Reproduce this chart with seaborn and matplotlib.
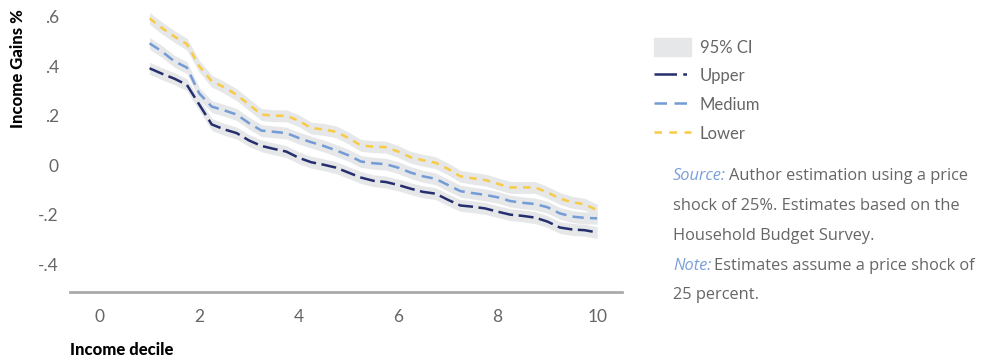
"""
Income gains by decile under a 25% price shock, three groups with 95% CI bands.
Writes: out.png
"""
import matplotlib.lines as mlines
import matplotlib.patches as mpatches
import matplotlib.pyplot as plt
import pandas as pd
import seaborn as sns

DECILE = [1.0, 1.25, 1.5, 1.75, 2.0, 2.25, 2.5, 2.75, 3.0, 3.25, 3.5, 3.75,
          4.0, 4.25, 4.5, 4.75, 5.0, 5.25, 5.5, 5.75, 6.0, 6.25, 6.5, 6.75,
          7.0, 7.25, 7.5, 7.75, 8.0, 8.25, 8.5, 8.75, 9.0, 9.25, 9.5, 9.75, 10.0]

UPPER = [0.392, 0.370, 0.350, 0.325, 0.245, 0.165, 0.145, 0.130, 0.100, 0.078,
         0.066, 0.055, 0.030, 0.012, 0.002, -0.010, -0.030, -0.050, -0.063,
         -0.068, -0.080, -0.095, -0.108, -0.115, -0.140, -0.163, -0.168, -0.175,
         -0.188, -0.200, -0.205, -0.212, -0.228, -0.252, -0.260, -0.263, -0.272]

MEDIUM = [0.493, 0.460, 0.420, 0.395, 0.290, 0.237, 0.222, 0.205, 0.170, 0.140,
          0.135, 0.130, 0.110, 0.093, 0.078, 0.060, 0.040, 0.015, 0.008, 0.004,
          -0.010, -0.030, -0.045, -0.055, -0.080, -0.105, -0.113, -0.120, -0.130,
          -0.145, -0.152, -0.157, -0.170, -0.195, -0.208, -0.213, -0.215]

LOWER = [0.594, 0.555, 0.520, 0.490, 0.400, 0.340, 0.315, 0.285, 0.245, 0.205,
         0.200, 0.200, 0.180, 0.150, 0.145, 0.135, 0.110, 0.080, 0.075, 0.073,
         0.055, 0.032, 0.020, 0.010, -0.015, -0.045, -0.053, -0.060, -0.075,
         -0.090, -0.090, -0.090, -0.110, -0.135, -0.150, -0.158, -0.182]

# half width of the 95% CI band, per group
CI_HALF = {"Upper": 0.024, "Medium": 0.024, "Lower": 0.024}

GROUPS = ["Upper", "Medium", "Lower"]
COLORS = {"Upper": "#252f6e", "Medium": "#739bd6", "Lower": "#f8cb46"}
DASHES = {"Upper": (6, 2.2), "Medium": (4.5, 2.5), "Lower": (3, 2.5)}
LEGEND_DASHES = {"Upper": (9, 2.5, 1.5, 2.5), "Medium": (5, 3), "Lower": (3, 3)}
BAND = "#e6e7e8"
TXT = "#666666"

YTICKS = [0.6, 0.4, 0.2, 0.0, -0.2, -0.4]
YTICKLABELS = [".6", ".4", ".2", "0", "-.2", "-.4"]
XTICKS = [0, 2, 4, 6, 8, 10]


def main():
    sns.set_theme(style="white")
    plt.rcParams["font.family"] = ["Lato", "DejaVu Sans"]

    df = pd.concat([
        pd.DataFrame({"decile": DECILE, "gain": vals, "group": g})
        for g, vals in zip(GROUPS, [UPPER, MEDIUM, LOWER])
    ], ignore_index=True)

    fig = plt.figure(figsize=(9.87, 3.6), dpi=100)
    ax = fig.add_axes([70 / 987, 68 / 360, 552 / 987, 285 / 360])

    for g in GROUPS:
        sub = df[df["group"] == g]
        ax.fill_between(sub["decile"], sub["gain"] - CI_HALF[g],
                        sub["gain"] + CI_HALF[g], color=BAND, lw=0, zorder=1)

    sns.lineplot(data=df, x="decile", y="gain", hue="group", style="group",
                 palette=COLORS, dashes=DASHES, linewidth=1.8,
                 legend=False, ax=ax, zorder=3)

    ax.set_xlim(-0.6, 10.5)
    ax.set_ylim(-0.513, 0.64)
    ax.set_xticks(XTICKS)
    ax.set_yticks(YTICKS)
    ax.set_yticklabels(YTICKLABELS)
    ax.tick_params(axis="both", length=0, labelsize=12.5, colors=TXT)
    ax.tick_params(axis="x", pad=12)
    ax.tick_params(axis="y", pad=8)
    ax.set_xlabel("")
    ax.set_ylabel("")
    for side in ("top", "right", "left"):
        ax.spines[side].set_visible(False)
    ax.spines["bottom"].set_color("#aaaaaa")
    ax.spines["bottom"].set_linewidth(2)

    fig.text(70 / 987, 1 - 350 / 360, "Income decile", fontsize=12,
             fontweight="black", color="black", ha="left", va="center")
    fig.text(18 / 987, 1 - 9 / 360, "Income Gains %", fontsize=12,
             fontweight="black", color="black", rotation=90,
             ha="center", va="top")

    handles = [mpatches.FancyBboxPatch((0, 0), 1, 1, color=BAND, label="95% CI")]
    for g in GROUPS:
        handles.append(mlines.Line2D([], [], color=COLORS[g], lw=1.8,
                                     dashes=LEGEND_DASHES[g], label=g))
    leg = fig.legend(handles=handles, loc="upper left",
                     bbox_to_anchor=(639 / 987, 1 - 23 / 360), frameon=False,
                     fontsize=12, handlelength=2.2, handleheight=1.3,
                     labelspacing=0.64, handletextpad=0.55)
    for t in leg.get_texts():
        t.set_color(TXT)

    note_font = ["Open Sans", "DejaVu Sans"]
    blue = "#7a9fd8"
    x0 = 673 / 987
    fs = 11.8
    src = fig.text(x0, 1 - 176 / 360, "Source:", fontsize=fs, style="italic",
                   color=blue, family=note_font, va="center", ha="left")
    ax.annotate("Author estimation using a price", xy=(1, 0.5),
                xycoords=src, xytext=(2, 0), textcoords="offset points",
                va="center", ha="left", fontsize=fs,
                color=TXT, family=note_font)
    fig.text(x0, 1 - 206 / 360, "shock of 25%. Estimates based on the",
             fontsize=fs, color=TXT, family=note_font, va="center")
    fig.text(x0, 1 - 236 / 360, "Household Budget Survey.",
             fontsize=fs, color=TXT, family=note_font, va="center")
    note = fig.text(x0, 1 - 266 / 360, "Note:", fontsize=fs, style="italic",
                    color=blue, family=note_font, va="center", ha="left")
    ax.annotate("Estimates assume a price shock of", xy=(1, 0.5),
                xycoords=note, xytext=(2, 0), textcoords="offset points",
                va="center", ha="left", fontsize=fs,
                color=TXT, family=note_font)
    fig.text(x0, 1 - 295 / 360, "25 percent.", fontsize=fs, color=TXT,
             family=note_font, va="center")

    fig.savefig("out.png", dpi=100)
    plt.close(fig)


if __name__ == "__main__":
    main()
